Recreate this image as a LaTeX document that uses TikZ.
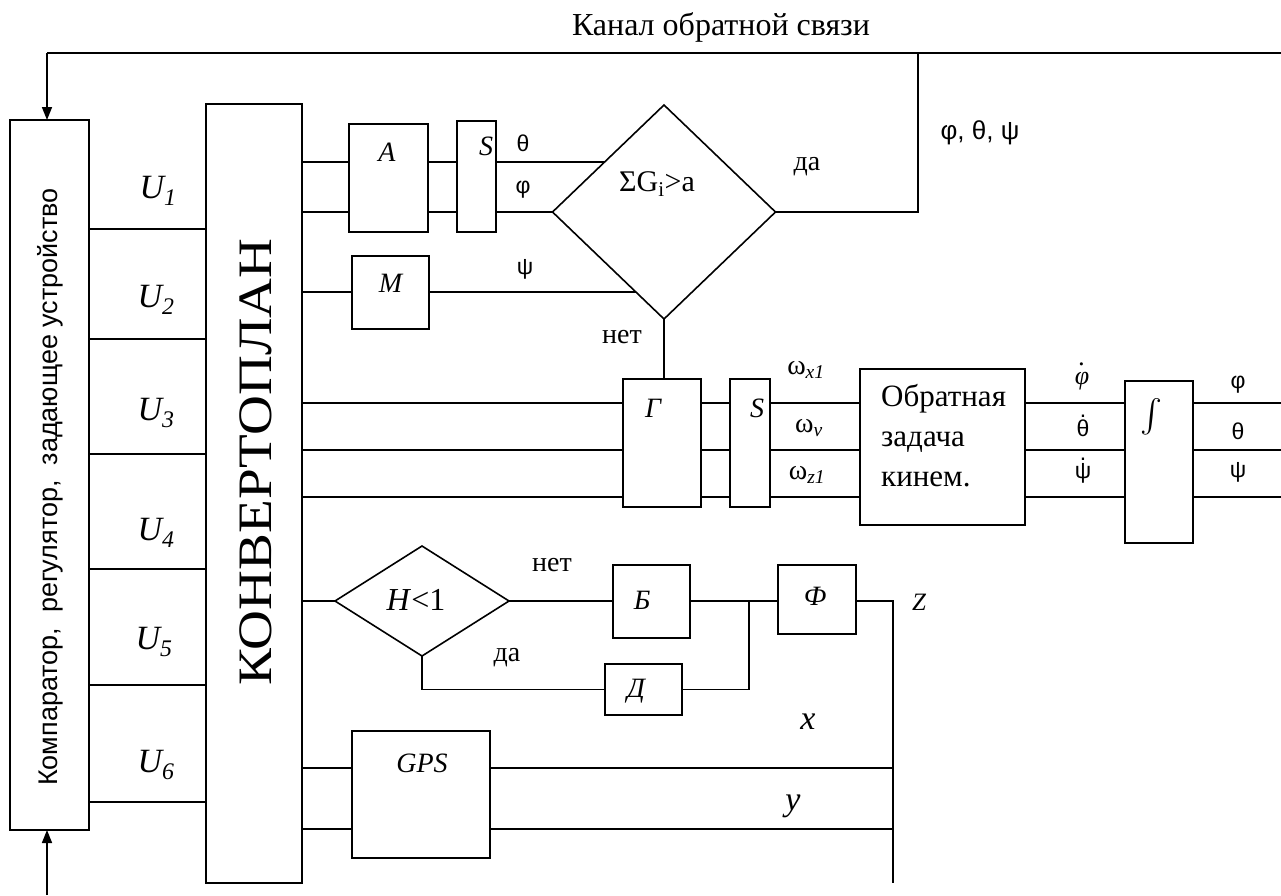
\documentclass[tikz,border=0pt]{standalone}
\usepackage{fontspec}
\setmainfont{Liberation Serif}
\newfontfamily\sansf{Liberation Sans}
\newfontfamily\gk{Liberation Sans}
\usetikzlibrary{calc,arrows.meta,shapes.geometric}
\newcommand\myfs[1]{\fontsize{#1}{#1}\selectfont}
\newcommand\dotover[2]{\ooalign{#2\cr\hidewidth\raisebox{#1}{.}\hidewidth\cr}}
\tikzset{
  wire/.style={line width=1.6pt},
  blk/.style={draw, line width=1.6pt, inner sep=0pt, outer sep=0pt},
  arr/.style={wire, -{Triangle[length=13pt,width=10pt]}},
  lab/.style={inner sep=0pt, font=\myfs{28}},
  glab/.style={inner sep=0pt, font=\gk\myfs{23}},
  ulab/.style={inner sep=0pt, font=\itshape\myfs{34}},
  blab/.style={inner sep=0pt, font=\itshape\myfs{28}},
  ktxt/.style={inner sep=0pt, anchor=base west, font=\myfs{31}},
}
\begin{document}
\begin{tikzpicture}[x=1pt,y=-1pt]
\fill[white] (0,0) rectangle (1281,895);
\useasboundingbox (0,0) rectangle (1281,895);

% main blocks
\node[blk, minimum width=79, minimum height=710] (comp) at (49.5,475) {};
\node[rotate=90, inner sep=0pt, font=\sansf\myfs{27}] (compt) at (50,487) {Компаратор,\ \ регулятор,\ \ задающее устройство};
\node[blk, minimum width=96, minimum height=779] (conv) at (254,493.5) {};
\node[rotate=90, inner sep=0pt, font=\myfs{48}] (convt) at (256,462) {\scalebox{1.15}[1]{КОНВЕРТОПЛАН}};

% U lines
\foreach \yy/\nm in {229/1,339/2,454/3,569/4,685/5,802/6}{
  \coordinate (u\nm) at (0,\yy);
  \draw[wire] (comp.east |- u\nm) -- (conv.west |- u\nm);
}
\node[ulab] (U1) at (158,191) {U\textsubscript{1}};
\node[ulab] (U2) at (156,300) {U\textsubscript{2}};
\node[ulab] (U3) at (156,413) {U\textsubscript{3}};
\node[ulab] (U4) at (156,533) {U\textsubscript{4}};
\node[ulab] (U5) at (154,642) {U\textsubscript{5}};
\node[ulab] (U6) at (156,765) {U\textsubscript{6}};

% upper chain
\node[blk, minimum width=79, minimum height=108] (A) at (388.5,178) {};
\node[blab] (At) at (387,152) {A};
\node[blk, minimum width=39, minimum height=111] (S1) at (476.5,176.5) {};
\node[blab] (S1t) at (486,146) {S};
\node[blk, minimum width=77, minimum height=73] (M) at (390.5,292.5) {};
\node[blab] (Mt) at (390.5,283) {M};
\node[blk, diamond, minimum width=223, minimum height=214] (D1) at (664,212) {};
\node[inner sep=0pt, font=\myfs{30}] (D1t) at (657,184) {ΣG\textsubscript{i}>a};

\coordinate (wT) at (0,162);
\coordinate (wP) at (0,292);
\coordinate (eT) at ($(D1.west)!0.467!(D1.north)$);
\coordinate (eP) at ($(D1.west)!0.748!(D1.south)$);
\draw[wire] (conv.east |- wT) -- (A.west |- wT);
\draw[wire] (A.east |- wT) -- (S1.west |- wT);
\draw[wire] (S1.east |- wT) -- (eT |- wT);
\draw[wire] (conv.east |- D1.west) -- (A.west |- D1.west);
\draw[wire] (A.east |- D1.west) -- (S1.west |- D1.west);
\draw[wire] (S1.east |- D1.west) -- (D1.west);
\draw[wire] (conv.east |- wP) -- (M.west |- wP);
\draw[wire] (M.east |- wP) -- (eP |- wP);
\node[glab] (th1) at (523,143) {θ};
\node[glab] (ph1) at (523,190) {φ};
\node[glab] (ps1) at (525,269) {ψ};
\node[lab] (net1) at (622,337) {нет};
\node[lab] (da1) at (807,167) {да};
\node[inner sep=0pt, font=\gk\myfs{26}] (fpt) at (980,133) {φ, θ, ψ};

% feedback
\node[inner sep=0pt, font=\myfs{32}] (title) at (721,27) {Канал обратной связи};
\coordinate (fbR) at (1281,53);
\coordinate (fbL) at (47,53);
\coordinate (fbJ) at (918,53);
\draw[wire] (fbR) -- (fbL);
\draw[arr] (fbL) -- (fbL |- comp.north);
\draw[wire] (D1.east) -- (D1.east -| fbJ) -- (fbJ);
\coordinate (inB) at (47,895);
\draw[arr] (inB) -- (inB |- comp.south);

% gyro chain
\node[blk, minimum width=78, minimum height=128] (G) at (662,443) {};
\node[blab] (Gt) at (653,408) {Г};
\node[blk, minimum width=40, minimum height=128] (S2) at (750,443) {};
\node[blab] (S2t) at (757,408) {S};
\node[blk, minimum width=165, minimum height=156] (K) at (942.5,447) {};
\node[ktxt] (Kt1) at (881,406) {Обратная};
\node[ktxt] (Kt2) at (881,446) {задача};
\node[ktxt] (Kt3) at (881,486) {кинем.};
\node[blk, minimum width=68, minimum height=162] (I) at (1159,462) {};
\node[inner sep=0pt] (It) at (1151,417) {\scalebox{3.3}{$\int$}};
\draw[wire] (D1.south) -- (D1.south |- G.north);
\coordinate (outR) at (1281,0);
\foreach \yy/\nm in {403/1,450/2,497/3}{
  \coordinate (g\nm) at (0,\yy);
  \draw[wire] (conv.east |- g\nm) -- (G.west |- g\nm);
  \draw[wire] (G.east |- g\nm) -- (S2.west |- g\nm);
  \draw[wire] (S2.east |- g\nm) -- (K.west |- g\nm);
  \draw[wire] (K.east |- g\nm) -- (I.west |- g\nm);
  \draw[wire] (I.east |- g\nm) -- (outR |- g\nm);
}
\node[inner sep=0pt, font=\myfs{28}] (wx) at (806,370) {ω\textsubscript{\itshape x1}};
\node[inner sep=0pt, font=\myfs{28}] (wy) at (809,428) {ω\textsubscript{\itshape v}};
\node[inner sep=0pt, font=\myfs{28}] (wz) at (807,475) {ω\textsubscript{\itshape z1}};
\node[inner sep=0pt, font=\itshape\myfs{26}] (dph) at (1082,378) {\dotover{0.72em}{φ}};
\node[inner sep=0pt, font=\gk\myfs{23}] (dth) at (1083,428) {\dotover{0.8em}{θ}};
\node[inner sep=0pt, font=\gk\myfs{23}] (dps) at (1083,471) {\dotover{0.8em}{ψ}};
\node[glab] (ph2) at (1238,385) {φ};
\node[glab] (th2) at (1238,431) {θ};
\node[glab] (ps2) at (1238,472) {ψ};

% altitude chain
\node[blk, diamond, minimum width=174, minimum height=110] (H) at (422,601) {};
\node[inner sep=0pt, font=\myfs{32}] (Ht) at (416,600) {\textit{H}<1};
\node[blk, minimum width=77, minimum height=73] (B) at (651.5,601.5) {};
\node[blab] (Bt) at (642,600) {Б};
\node[blk, minimum width=78, minimum height=69] (F) at (817,599.5) {};
\node[blab] (Ft) at (815,596) {Ф};
\node[blk, minimum width=77, minimum height=51] (D) at (643.5,689.5) {};
\node[blab] (Dt) at (636,691) {Д};
\coordinate (J) at (749,601);
\coordinate (zx) at (893,883);
\draw[wire] (conv.east |- H.west) -- (H.west);
\draw[wire] (H.east) -- (B.west |- H.east);
\draw[wire] (B.east |- J) -- (J) -- (F.west |- J);
\draw[wire] (D.east) -- (D.east -| J) -- (J);
\draw[wire] (H.south) -- (H.south |- D.west) -- (D.west);
\draw[wire] (F.east |- J) -- (zx |- J) -- (zx);
\node[lab] (net2) at (552,565) {нет};
\node[lab] (da2) at (507,658) {да};
\node[inner sep=0pt, font=\itshape\myfs{25}] (Zt) at (919,602) {Z};

% GPS
\node[blk, minimum width=138, minimum height=127] (GPS) at (421,794.5) {};
\node[blab] (GPSt) at (422,763) {GPS};
\foreach \yy/\nm in {768/1,829/2}{
  \coordinate (p\nm) at (0,\yy);
  \draw[wire] (conv.east |- p\nm) -- (GPS.west |- p\nm);
  \draw[wire] (GPS.east |- p\nm) -- (zx |- p\nm);
}
\node[ulab] (xt) at (808,722) {x};
\node[ulab] (yt) at (793,806) {y};
\end{tikzpicture}
\end{document}
